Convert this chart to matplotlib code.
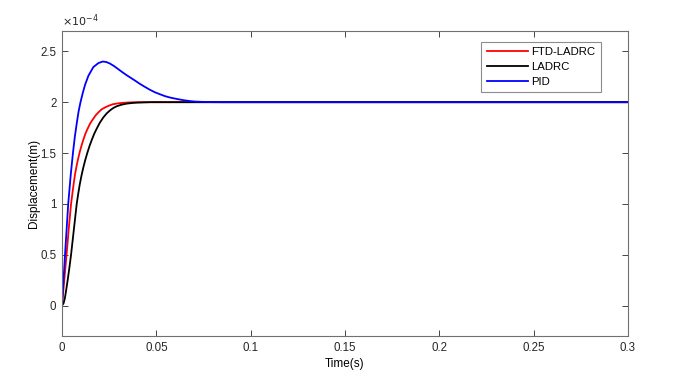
import matplotlib
matplotlib.use("Agg")
import matplotlib.pyplot as plt
from matplotlib.ticker import FuncFormatter

plt.rcParams['font.family'] = ['Liberation Sans', 'DejaVu Sans']

# Displacement values in units of 1e-4 m
t_ftd = [0, 0.0013, 0.0025, 0.0036, 0.0048, 0.0055, 0.0062, 0.0069, 0.0077, 0.0085,
         0.0094, 0.0103, 0.0113, 0.0124, 0.0136, 0.0149, 0.0163, 0.0178, 0.0193, 0.021,
         0.023, 0.025, 0.027, 0.0295, 0.032, 0.035, 0.038, 0.045, 0.3]
y_ftd = [0, 0.27, 0.52, 0.76, 1.0, 1.1, 1.2, 1.29, 1.37, 1.44,
         1.51, 1.57, 1.63, 1.69, 1.74, 1.79, 1.83, 1.87, 1.90, 1.93,
         1.95, 1.967, 1.98, 1.988, 1.993, 1.997, 1.999, 2.0, 2.0]

t_ladrc = [0, 0.0008, 0.0015, 0.0022, 0.003, 0.0039, 0.0048, 0.0063, 0.0078, 0.0086,
           0.0094, 0.0103, 0.0112, 0.0123, 0.0134, 0.0146, 0.0158, 0.0171, 0.0184, 0.0201,
           0.0219, 0.0237, 0.0255, 0.0272, 0.029, 0.0315, 0.034, 0.037, 0.04, 0.047, 0.3]
y_ladrc = [0, 0.02, 0.07, 0.15, 0.25, 0.37, 0.5, 0.75, 1.0, 1.1,
           1.19, 1.275, 1.35, 1.43, 1.5, 1.57, 1.63, 1.69, 1.74, 1.80,
           1.85, 1.89, 1.92, 1.943, 1.96, 1.975, 1.985, 1.992, 1.996, 2.0, 2.0]

t_pid = [0, 0.0016, 0.0033, 0.0046, 0.0058, 0.0068, 0.0078, 0.0088, 0.0098, 0.011,
         0.0122, 0.014, 0.0166, 0.0193, 0.0216, 0.0235, 0.0254, 0.0276, 0.0298, 0.032,
         0.0343, 0.036, 0.0385, 0.0413, 0.044, 0.0466, 0.0492, 0.0519, 0.0545, 0.0572,
         0.06, 0.0625, 0.065, 0.0678, 0.0705, 0.073, 0.078, 0.085, 0.1, 0.3]
y_pid = [0, 0.5, 1.0, 1.28, 1.5, 1.66, 1.79, 1.91, 2.0, 2.09,
         2.17, 2.26, 2.345, 2.385, 2.40, 2.395, 2.38, 2.355, 2.325, 2.295,
         2.265, 2.245, 2.215, 2.18, 2.15, 2.122, 2.098, 2.078, 2.06, 2.046,
         2.035, 2.026, 2.018, 2.011, 2.006, 2.004, 2.001, 2.0, 2.0, 2.0]

x_ticks = [0, 0.05, 0.1, 0.15, 0.2, 0.25, 0.3]
y_ticks = [0, 0.5, 1, 1.5, 2, 2.5]

fig = plt.figure(figsize=(6.92, 3.83), dpi=100)
ax = fig.add_axes([0.0896, 0.1227, 0.8179, 0.7963])

ax.plot(t_ftd, y_ftd, color='#ff0000', lw=1.3, label='FTD-LADRC')
ax.plot(t_ladrc, y_ladrc, color='#000000', lw=1.3, label='LADRC')
ax.plot(t_pid, y_pid, color='#0000ff', lw=1.3, label='PID')

ax.set_xlim(0, 0.3)
ax.set_ylim(-0.3, 2.7)
ax.set_xticks(x_ticks)
ax.set_yticks(y_ticks)
ax.xaxis.set_major_formatter(FuncFormatter(lambda v, p: '%g' % v))
ax.yaxis.set_major_formatter(FuncFormatter(lambda v, p: '%g' % v))
ax.tick_params(direction='in', top=True, right=True, length=4, width=0.6,
               labelsize=8.3, colors='#262626', pad=4)
for s in ax.spines.values():
    s.set_color('#707070')
    s.set_linewidth(0.8)

ax.set_xlabel('Time(s)', fontsize=8.5, labelpad=3)
ax.set_ylabel('Displacement(m)', fontsize=8.5, labelpad=0.5)
ax.text(0.0, 1.008, r'$\times 10^{-4}$', transform=ax.transAxes, fontsize=8,
        ha='left', va='bottom', color='#262626')

leg = ax.legend(loc='upper right', bbox_to_anchor=(0.952, 0.964), fontsize=8.2,
                frameon=True, fancybox=False, handlelength=3.6, handletextpad=0.35,
                borderpad=0.45, labelspacing=0.42, edgecolor='#707070', borderaxespad=0)
leg.get_frame().set_linewidth(0.8)

fig.savefig('out.png', dpi=100)
